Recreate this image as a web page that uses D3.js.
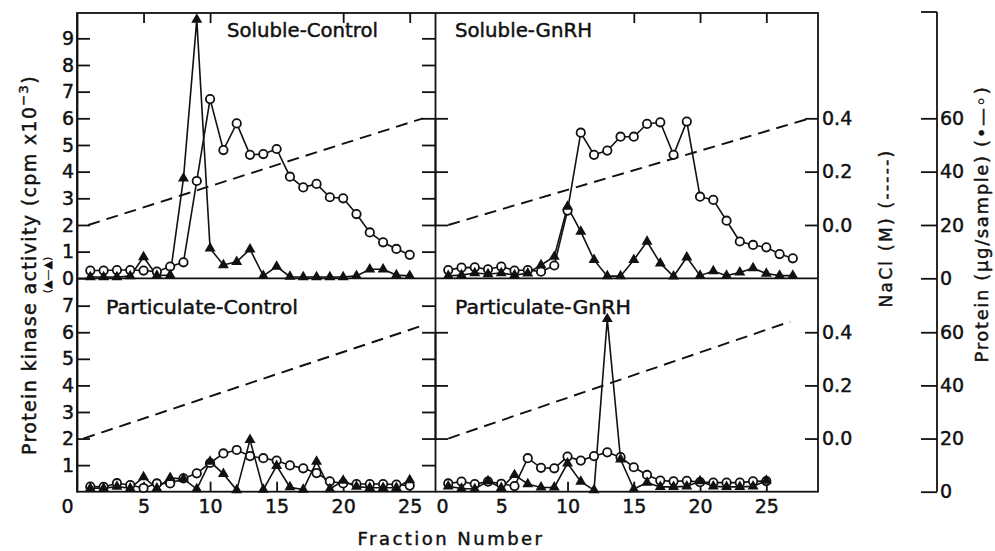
<!DOCTYPE html>
<html><head><meta charset="utf-8">
<script src="https://cdn.jsdelivr.net/npm/d3@7"></script>
<style>
body{margin:0;background:#fff;}
svg{display:block;}
text{font-family:"DejaVu Sans",sans-serif;fill:#111;stroke:#111;stroke-width:0.45px;}
</style></head><body>
<svg id="chart" width="995" height="551"></svg>
<script>
// ---------- DATA ----------
const fractions25 = [1,2,3,4,5,6,7,8,9,10,11,12,13,14,15,16,17,18,19,20,21,22,23,24,25];
const fractions27 = [1,2,3,4,5,6,7,8,9,10,11,12,13,14,15,16,17,18,19,20,21,22,23,24,25,26,27];

// Protein kinase activity (cpm x10^-3), filled triangles
const solubleControlKinase = [0.05,0.05,0.05,0.08,0.8,0.1,0.12,3.75,9.7,1.12,0.5,0.62,1.09,0.09,0.44,0.06,0.05,0.05,0.05,0.05,0.09,0.34,0.34,0.12,0.09];
const solubleGnRHKinase = [0.09,0.12,0.2,0.16,0.2,0.12,0.19,0.5,0.81,2.69,1.75,0.69,0.08,0.08,0.69,1.38,0.56,0.07,0.79,0.1,0.27,0.1,0.22,0.38,0.18,0.1,0.1];
const particulateControlKinase = [0.13,0.13,0.19,0.13,0.55,0.13,0.52,0.48,0.1,1.13,0.67,0.06,1.95,0.08,0.97,0.17,0.08,1.13,0.1,0.42,0.19,0.15,0.15,0.15,0.44];
const particulateGnRHKinase = [0.2,0.12,0.1,0.4,0.15,0.63,0.29,0.16,0.16,1.07,0.38,0.06,6.5,1.22,0.1,0.34,0.18,0.18,0.2,0.4,0.2,0.18,0.18,0.2,0.42];

// Protein (ug/sample), open circles
const solubleControlProtein = [2.9,2.9,3.1,3.1,2.9,2.5,4.4,6.0,36.5,67.2,48.1,58.1,46.3,46.6,48.5,38.1,34.1,35.4,30.4,30.0,24.1,17.2,13.5,11.0,8.8];
const solubleGnRHProtein = [3.1,4.0,4.1,3.4,4.4,2.9,3.1,2.5,4.8,25.4,54.6,46.3,47.9,53.1,53.1,57.9,58.5,46.3,58.8,30.6,29.4,21.6,13.8,12.5,11.6,9.1,7.5];
const particulateControlProtein = [1.9,1.8,3.2,2.5,1.4,3.1,3.1,5.0,6.9,10.8,14.4,15.7,13.4,12.6,11.7,9.9,8.8,7.0,3.9,3.1,2.9,2.9,2.9,2.7,2.3];
const particulateGnRHProtein = [3.1,3.8,2.9,3.8,3.0,2.1,12.6,9.0,8.8,13.2,11.7,13.4,14.8,13.0,9.2,6.3,4.2,3.9,4.1,3.6,3.4,3.4,3.4,3.9,4.0];

// NaCl gradient (M): [fraction, molarity] end points
const solubleControlNaCl = [[0.85,0.0],[26.0,0.40]];
const solubleGnRHNaCl = [[1.0,0.0],[28.3,0.40]];
const particulateControlNaCl = [[0.47,0.0],[25.9,0.424]];
const particulateGnRHNaCl = [[1.0,0.0],[26.8,0.44]];

// tick labels
const kinaseTicksTop = [0,1,2,3,4,5,6,7,8,9];
const kinaseTicksBottom = [1,2,3,4,5,6,7];
const dividerTicksTop = [1,2,3,4,5,6,7,8,9];
const dividerTicksBottom = [1,2,3,4,5,6,7];
const fractionTicks = [0,5,10,15,20,25];
const topTicksLeft = [5,10,20,25];
const topTicksRight = [15,20,25];
const naclTicks = [0.0,0.2,0.4];
const proteinTicks = [0,20,40,60];
const panelTitles = ["Soluble-Control","Soluble-GnRH","Particulate-Control","Particulate-GnRH"];

// ---------- LAYOUT ----------
const svg = d3.select("#chart");
const X0L = 77, X1L = 435, X1R = 818;
const YT0 = 13, YMID = 278.3, YB1 = 491.7;
const INK = "#111";

const xL = d3.scaleLinear().domain([0, 26.9]).range([X0L, X1L]);
const xR = d3.scaleLinear().domain([0, 28.9]).range([X1L, X1R]);
const yTop = d3.scaleLinear().domain([0, 9.95]).range([YMID, YT0]);
const yBot = d3.scaleLinear().domain([0, 8.03]).range([YB1, YMID]);
const naclTop = d3.scaleLinear().domain([0, 0.4]).range([yTop(2), yTop(6)]);
const naclBot = d3.scaleLinear().domain([0, 0.4]).range([yBot(2), yBot(6)]);
const protTop = d3.scaleLinear().domain([0, 60]).range([yTop(0), yTop(6)]);
const protBot = d3.scaleLinear().domain([0, 60]).range([yBot(0), yBot(6)]);

const panels = [
  {title: panelTitles[0], fr: fractions25, kin: solubleControlKinase, prot: solubleControlProtein, nacl: solubleControlNaCl,
   x: xL, y: yTop, ns: naclTop, ps: protTop, tx: 227, ty: 37, tw: 151},
  {title: panelTitles[1], fr: fractions27, kin: solubleGnRHKinase, prot: solubleGnRHProtein, nacl: solubleGnRHNaCl,
   x: xR, y: yTop, ns: naclTop, ps: protTop, tx: 455, ty: 37, tw: 137},
  {title: panelTitles[2], fr: fractions25, kin: particulateControlKinase, prot: particulateControlProtein, nacl: particulateControlNaCl,
   x: xL, y: yBot, ns: naclBot, ps: protBot, tx: 106, ty: 314, tw: 192},
  {title: panelTitles[3], fr: fractions25, kin: particulateGnRHKinase, prot: particulateGnRHProtein, nacl: particulateGnRHNaCl,
   x: xR, y: yBot, ns: naclBot, ps: protBot, tx: 455, ty: 314, tw: 176}
];

function styleAxis(g, fs){
  g.selectAll("path.domain").attr("stroke", INK).attr("stroke-width", 1.8);
  g.selectAll(".tick line").attr("stroke", INK).attr("stroke-width", 1.8);
  g.selectAll(".tick text").attr("font-family", "DejaVu Sans").attr("font-size", fs).attr("fill", INK);
}

// frames
const frame = svg.append("g").attr("fill","none").attr("stroke",INK).attr("stroke-width",1.8);
frame.append("rect").attr("x",X0L).attr("y",YT0).attr("width",X1R-X0L).attr("height",YB1-YT0);
frame.append("line").attr("x1",X0L).attr("x2",X1R).attr("y1",YMID).attr("y2",YMID);

// left kinase axes
styleAxis(svg.append("g").attr("transform",`translate(${X0L},0)`)
  .call(d3.axisLeft(yTop).tickValues(kinaseTicksTop).tickSize(-13).tickPadding(3).tickSizeOuter(0)), 19);
styleAxis(svg.append("g").attr("transform",`translate(${X0L},0)`)
  .call(d3.axisLeft(yBot).tickValues(kinaseTicksBottom).tickSize(-13).tickPadding(3).tickSizeOuter(0)), 19);

// divider ticks (left panel right edge)
styleAxis(svg.append("g").attr("transform",`translate(${X1L},0)`)
  .call(d3.axisRight(yTop).tickValues(dividerTicksTop).tickSize(-13).tickFormat("").tickSizeOuter(0)), 17);
styleAxis(svg.append("g").attr("transform",`translate(${X1L},0)`)
  .call(d3.axisRight(yBot).tickValues(dividerTicksBottom).tickSize(-13).tickFormat("").tickSizeOuter(0)), 17);
// right panel left-edge NaCl ticks
[naclTop, naclBot].forEach(s => styleAxis(svg.append("g").attr("transform",`translate(${X1L},0)`)
  .call(d3.axisLeft(s).tickValues(naclTicks).tickSize(-13).tickFormat("").tickSizeOuter(0)), 17));
// right border NaCl axes
[naclTop, naclBot].forEach(s => {
  const g = svg.append("g").attr("transform",`translate(${X1R},0)`)
    .call(d3.axisRight(s).tickValues(naclTicks).tickSize(-13).tickPadding(4).tickFormat(d3.format(".1f")).tickSizeOuter(0));
  g.select("path.domain").remove();
  styleAxis(g, 19);
});

// bottom fraction axes
[[xL,-10],[xR,7]].forEach(([s,shift]) => {
  const g = svg.append("g").attr("transform",`translate(0,${YB1})`)
    .call(d3.axisBottom(s).tickValues(fractionTicks).tickSize(-10).tickPadding(8).tickSizeOuter(0));
  g.select("path.domain").remove();
  styleAxis(g, 19);
  g.selectAll(".tick").filter(d => d === 0).select("text").attr("dx", shift);
  g.selectAll(".tick").filter(d => d === 0).select("line").remove();
});
// top inward ticks
[[xL, topTicksLeft],[xR, topTicksRight]].forEach(([s,t]) => {
  const g = svg.append("g").attr("transform",`translate(0,${YT0})`)
    .call(d3.axisTop(s).tickValues(t).tickSize(-10).tickFormat("").tickSizeOuter(0));
  g.select("path.domain").remove();
  styleAxis(g, 17);
});

// protein axis
const PX = 937;
svg.append("line").attr("x1",PX).attr("x2",PX).attr("y1",YT0-1).attr("y2",YB1).attr("stroke",INK).attr("stroke-width",1.8);
svg.append("line").attr("x1",PX-16).attr("x2",PX).attr("y1",YT0-1).attr("y2",YT0-1).attr("stroke",INK).attr("stroke-width",1.8);
[protTop, protBot].forEach(s => {
  const g = svg.append("g").attr("transform",`translate(${PX},0)`)
    .call(d3.axisRight(s).tickValues(proteinTicks).tickSize(-16).tickPadding(3).tickSizeOuter(0));
  g.select("path.domain").remove();
  styleAxis(g, 19);
});

// ---------- MARKS ----------
const tri = d3.symbol().type(d3.symbolTriangle).size(52);
panels.forEach(p => {
  const g = svg.append("g");
  const kin = p.fr.map((f,i) => ({f, v: p.kin[i]}));
  const prot = p.fr.map((f,i) => ({f, v: p.prot[i]}));
  g.append("path").datum(p.nacl)
    .attr("d", d3.line().x(d => p.x(d[0])).y(d => p.ns(d[1])))
    .attr("fill","none").attr("stroke",INK).attr("stroke-width",1.9).attr("stroke-dasharray","12,7");
  g.append("path").datum(prot)
    .attr("d", d3.line().x(d => p.x(d.f)).y(d => p.ps(d.v)))
    .attr("fill","none").attr("stroke",INK).attr("stroke-width",1.6);
  g.append("path").datum(kin)
    .attr("d", d3.line().x(d => p.x(d.f)).y(d => p.y(d.v)))
    .attr("fill","none").attr("stroke",INK).attr("stroke-width",1.6);
  g.selectAll("circle").data(prot).join("circle")
    .attr("cx", d => p.x(d.f)).attr("cy", d => p.ps(d.v)).attr("r", 4.2)
    .attr("fill","#fff").attr("stroke",INK).attr("stroke-width",1.8);
  g.selectAll("path.tri").data(kin).join("path").attr("class","tri")
    .attr("d", tri).attr("transform", d => `translate(${p.x(d.f)},${p.y(d.v)})`)
    .attr("fill",INK);
  g.append("text").attr("x", p.tx).attr("y", p.ty).attr("font-size", 19)
    .attr("textLength", p.tw).attr("lengthAdjust","spacingAndGlyphs").text(p.title);
});

// ---------- AXIS TITLES ----------
function fit(sel, target){
  const n = sel.text().length;
  const L = sel.node().getComputedTextLength();
  sel.attr("letter-spacing", ((target - L) / n).toFixed(2));
}
const yt = svg.append("text").attr("transform","translate(36,265) rotate(-90)")
  .attr("text-anchor","middle").attr("font-size",19);
yt.append("tspan").text("Protein kinase activity (cpm x10");
yt.append("tspan").attr("font-size",13).attr("dy",-8).text("−3");
yt.append("tspan").attr("dy",8).text(")");
fit(yt, 380);

svg.append("text").attr("transform","translate(51,275) rotate(-90)")
  .attr("text-anchor","middle").attr("font-size",11).style("stroke-width","0.2px").text("(▲—▲)");

const nt = svg.append("text").attr("transform","translate(892,228) rotate(-90)")
  .attr("text-anchor","middle").attr("font-size",17).text("NaCl (M) (-----)");
fit(nt, 159);

const pt = svg.append("text").attr("transform","translate(988,224) rotate(-90)")
  .attr("text-anchor","middle").attr("font-size",18).text("Protein (µg/sample) (•—◦)");
fit(pt, 277);

const xt = svg.append("text").attr("x",451).attr("y",545)
  .attr("text-anchor","middle").attr("font-size",18).text("Fraction Number");
fit(xt, 187);
</script>
</body></html>
